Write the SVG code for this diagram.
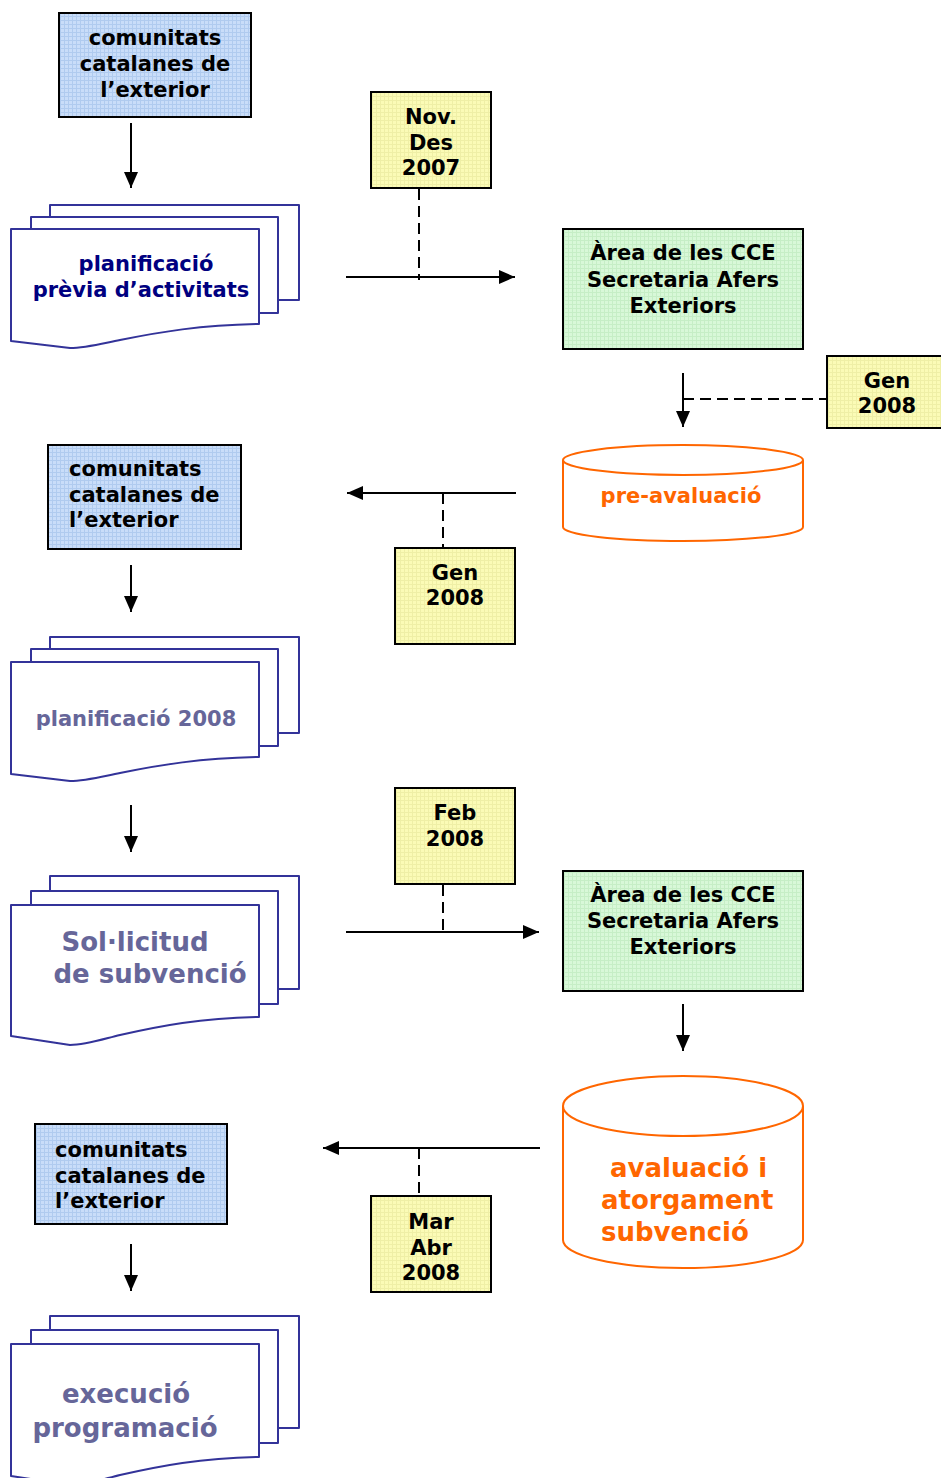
<svg xmlns="http://www.w3.org/2000/svg" width="941" height="1478" viewBox="0 0 941 1478">
<defs>
<pattern id="pb" width="4" height="4" patternUnits="userSpaceOnUse"><rect width="4" height="4" fill="#c9ddf9"/><path d="M0,0.5H4M0.5,0V4" stroke="#b0cbef" stroke-width="1"/></pattern>
<pattern id="py" width="4" height="4" patternUnits="userSpaceOnUse"><rect width="4" height="4" fill="#fbfbb6"/><path d="M0,0.5H4M0.5,0V4" stroke="#efefa6" stroke-width="1"/></pattern>
<pattern id="pg" width="4" height="4" patternUnits="userSpaceOnUse"><rect width="4" height="4" fill="#d8f8d8"/><path d="M0,0.5H4M0.5,0V4" stroke="#c6eec6" stroke-width="1"/></pattern>
<marker id="ah" viewBox="0 0 16 14" refX="16" refY="7" markerWidth="16" markerHeight="14" markerUnits="userSpaceOnUse" orient="auto"><path d="M0,0L16,7L0,14Z" fill="#000"/></marker>
<style>
text{font-family:"DejaVu Sans","Liberation Sans",sans-serif;font-weight:bold;font-size:21px;text-anchor:middle;fill:#000}
.l{text-anchor:start}
.box{stroke:#000;stroke-width:2}
.blue{fill:url(#pb)}
.yel{fill:url(#py)}
.grn{fill:url(#pg)}
.doc{fill:#fff;stroke:#333399;stroke-width:2;stroke-linejoin:round}
.cyl{fill:#fff;stroke:#ff6600;stroke-width:2}
.o{fill:#ff6600}
.nv{fill:#000080}
.gr{fill:#666699}
.big{font-size:26px}
.arr{stroke:#000;stroke-width:2;fill:none;marker-end:url(#ah)}
.dash{stroke:#000;stroke-width:2;fill:none;stroke-dasharray:11 6}
</style>
</defs>

<g id="connectors">
<path class="arr" d="M131,123V188"/>
<path class="arr" d="M346,277H515"/>
<path class="arr" d="M683,373V427"/>
<path class="arr" d="M516,493H347"/>
<path class="arr" d="M131,565V612"/>
<path class="arr" d="M131,805V852"/>
<path class="arr" d="M346,932H539"/>
<path class="arr" d="M683,1004V1051"/>
<path class="arr" d="M540,1148H323"/>
<path class="arr" d="M131,1244V1291"/>
<path class="dash" d="M419,189V280"/>
<path class="dash" d="M683,399H826"/>
<path class="dash" d="M443,493V547"/>
<path class="dash" d="M443,885V932"/>
<path class="dash" d="M419,1148V1195"/>
</g>

<g id="cce1">
<rect class="box blue" x="59" y="13" width="192" height="104"/>
<text x="155" y="45">comunitats</text>
<text x="155" y="71">catalanes de</text>
<text x="155" y="97">l’exterior</text>
</g>

<g id="doc1">
<rect class="doc" x="50" y="205" width="249" height="95"/>
<rect class="doc" x="31" y="217" width="247" height="96"/>
<path class="doc" d="M11,229H259V324C200,325 160,332 120,340C100,344 85,348 70,348L11,341Z"/>
<text class="nv" x="146" y="271">planificació</text>
<text class="nv" x="141" y="297">prèvia d’activitats</text>
</g>

<g id="date1">
<rect class="box yel" x="371" y="92" width="120" height="96"/>
<text x="431" y="124">Nov.</text>
<text x="431" y="150">Des</text>
<text x="431" y="175">2007</text>
</g>

<g id="area1">
<rect class="box grn" x="563" y="229" width="240" height="120"/>
<text x="683" y="260">Àrea de les CCE</text>
<text x="683" y="287">Secretaria Afers</text>
<text x="683" y="313">Exteriors</text>
</g>

<g id="date2">
<rect class="box yel" x="827" y="356" width="116" height="72"/>
<text x="887" y="388">Gen</text>
<text x="887" y="413">2008</text>
</g>

<g id="preaval">
<path class="cyl" d="M563,460V527A120,14 0 0 0 803,527V460"/>
<ellipse class="cyl" cx="683" cy="460" rx="120" ry="15"/>
<text class="o" x="681" y="503">pre-avaluació</text>
</g>

<g id="cce2">
<rect class="box blue" x="48" y="445" width="193" height="104"/>
<text class="l" x="69" y="476">comunitats</text>
<text class="l" x="69" y="502">catalanes de</text>
<text class="l" x="69" y="527">l’exterior</text>
</g>

<g id="date3">
<rect class="box yel" x="395" y="548" width="120" height="96"/>
<text x="455" y="580">Gen</text>
<text x="455" y="605">2008</text>
</g>

<g id="doc2">
<rect class="doc" x="50" y="637" width="249" height="96"/>
<rect class="doc" x="31" y="649" width="247" height="97"/>
<path class="doc" d="M11,662H259V757C200,758 160,765 120,773C100,777 85,781 70,781L11,774Z"/>
<text class="gr" x="136" y="726">planificació 2008</text>
</g>

<g id="date4">
<rect class="box yel" x="395" y="788" width="120" height="96"/>
<text x="455" y="820">Feb</text>
<text x="455" y="846">2008</text>
</g>

<g id="doc3">
<rect class="doc" x="50" y="876" width="249" height="113"/>
<rect class="doc" x="31" y="891" width="247" height="113"/>
<path class="doc" d="M11,905H259V1017C200,1018 160,1026 120,1035C100,1040 85,1045 70,1045L11,1036Z"/>
<text class="gr big" x="135" y="951">Sol·licitud</text>
<text class="gr big" x="150" y="983">de subvenció</text>
</g>

<g id="area2">
<rect class="box grn" x="563" y="871" width="240" height="120"/>
<text x="683" y="902">Àrea de les CCE</text>
<text x="683" y="928">Secretaria Afers</text>
<text x="683" y="954">Exteriors</text>
</g>

<g id="aval">
<path class="cyl" d="M563,1106V1240A120,28 0 0 0 803,1240V1106"/>
<ellipse class="cyl" cx="683" cy="1106" rx="120" ry="30"/>
<text class="o big l" x="610" y="1177">avaluació i</text>
<text class="o big l" x="601" y="1209">atorgament</text>
<text class="o big l" x="601" y="1241">subvenció</text>
</g>

<g id="date5">
<rect class="box yel" x="371" y="1196" width="120" height="96"/>
<text x="431" y="1229">Mar</text>
<text x="431" y="1255">Abr</text>
<text x="431" y="1280">2008</text>
</g>

<g id="cce3">
<rect class="box blue" x="35" y="1124" width="192" height="100"/>
<text class="l" x="55" y="1157">comunitats</text>
<text class="l" x="55" y="1183">catalanes de</text>
<text class="l" x="55" y="1208">l’exterior</text>
</g>

<g id="doc4">
<rect class="doc" x="50" y="1316" width="249" height="112"/>
<rect class="doc" x="31" y="1330" width="247" height="113"/>
<path class="doc" d="M11,1344H259V1457C200,1458 160,1466 120,1475C100,1480 85,1485 70,1485L11,1476Z"/>
<text class="gr big" x="126" y="1403">execució</text>
<text class="gr big" x="125" y="1437">programació</text>
</g>
</svg>
